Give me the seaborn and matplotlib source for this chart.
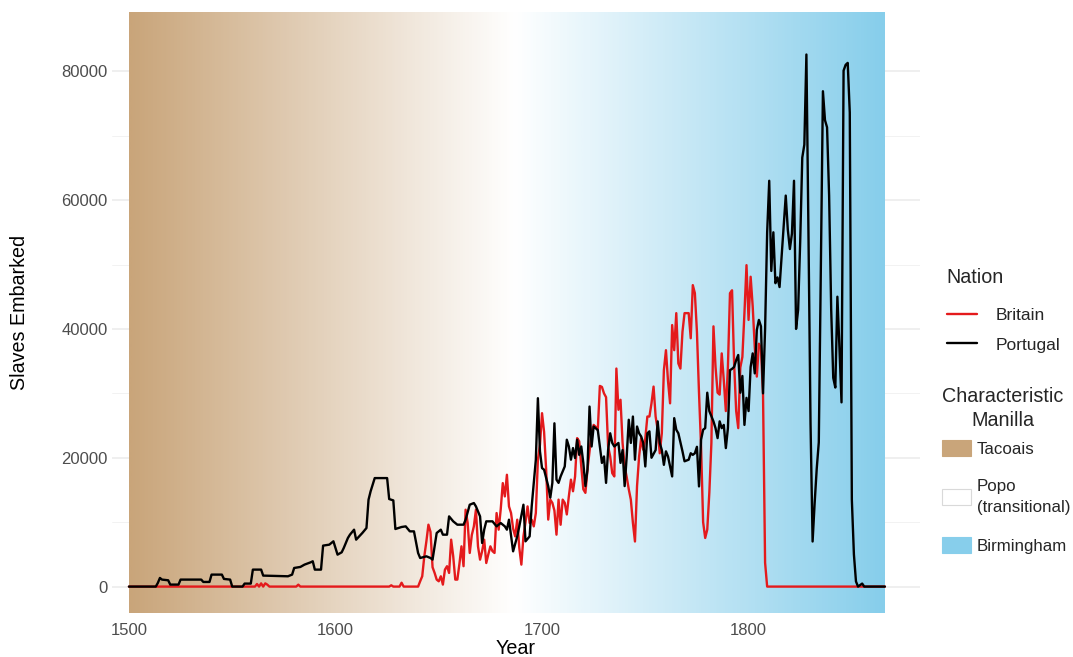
import numpy as np
import pandas as pd
import matplotlib
matplotlib.use("Agg")
import matplotlib.pyplot as plt
from matplotlib.colors import LinearSegmentedColormap
from matplotlib.lines import Line2D
from matplotlib.patches import Patch
from matplotlib.ticker import MultipleLocator
import seaborn as sns

# --- data (slaves embarked per year) ---
portugal_years = [
    1500, 1513, 1514, 1515, 1516, 1519, 1520, 1524, 1525, 1535, 1536, 1539, 1540, 1545,
    1546, 1549, 1550, 1555, 1556, 1559, 1560, 1564, 1565, 1577, 1579, 1580, 1583, 1585,
    1588, 1589, 1590, 1593, 1594, 1597, 1599, 1601, 1603, 1604, 1606, 1607, 1609, 1610,
    1613, 1615, 1616, 1617, 1618, 1619, 1625, 1626, 1628, 1629, 1632, 1634, 1636, 1638,
    1640, 1641, 1644, 1646, 1647, 1649, 1651, 1652, 1654, 1655, 1657, 1659, 1662, 1663,
    1665, 1667, 1668, 1670, 1671, 1672, 1673, 1676, 1678, 1680, 1682, 1683, 1684, 1686,
    1688, 1689, 1691, 1692, 1694, 1695, 1696, 1697, 1698, 1699, 1700, 1701, 1703, 1704,
    1705, 1706, 1707, 1708, 1709, 1711, 1712, 1713, 1714, 1715, 1716, 1717, 1718, 1719,
    1720, 1721, 1722, 1723, 1724, 1725, 1727, 1728, 1729, 1730, 1731, 1732, 1733, 1734,
    1735, 1737, 1738, 1739, 1740, 1741, 1742, 1743, 1744, 1745, 1746, 1747, 1748, 1749,
    1750, 1751, 1752, 1753, 1755, 1756, 1757, 1758, 1759, 1760, 1761, 1762, 1763, 1764,
    1765, 1766, 1768, 1769, 1771, 1772, 1773, 1774, 1775, 1776, 1777, 1778, 1779, 1780,
    1781, 1783, 1784, 1785, 1786, 1787, 1788, 1789, 1790, 1791, 1792, 1793, 1794, 1795,
    1796, 1797, 1798, 1799, 1800, 1801, 1802, 1803, 1804, 1805, 1806, 1807, 1808, 1809,
    1810, 1811, 1812, 1813, 1814, 1815, 1816, 1817, 1818, 1819, 1820, 1821, 1822, 1823,
    1824, 1825, 1826, 1827, 1828, 1829, 1830, 1831, 1832, 1833, 1834, 1835, 1836, 1837,
    1838, 1839, 1840, 1841, 1842, 1843, 1844, 1845, 1846, 1847, 1848, 1849, 1850, 1851,
    1852, 1853, 1855, 1856, 1866,
]
portugal_slaves = [
    0, 0, 570, 1340, 1085, 980, 310, 310, 1085, 1085, 720, 720, 1860, 1860,
    1190, 1085, 0, 0, 465, 465, 2635, 2635, 1705, 1600, 1860, 2890, 3050, 3410,
    3770, 3930, 2635, 2635, 6360, 6510, 7030, 4960, 5320, 5990, 7540, 8060, 8835, 7285,
    8320, 9090, 13485, 14780, 15810, 16845, 16845, 13590, 13380, 8940, 9250, 9350, 8575, 8575,
    5215, 4440, 4700, 4440, 4185, 8320, 8835, 8060, 8060, 10900, 10130, 9610, 9610, 10385,
    12710, 12970, 12450, 10900, 6765, 8835, 10130, 10130, 9350, 9870, 9350, 8835, 10385, 5475,
    7800, 9350, 12710, 7025, 7800, 12450, 16000, 19685, 29245, 21000, 18400, 18140, 15600, 13800,
    16100, 25350, 16600, 16100, 17100, 18650, 22800, 21750, 19700, 21500, 19950, 22800, 20450, 21750,
    19200, 15600, 18140, 27950, 21750, 24850, 24300, 21750, 19200, 20200, 16100, 21200, 23800, 22300,
    21750, 22300, 19200, 21200, 15600, 20200, 25900, 22300, 26400, 19700, 24850, 23800, 23300, 22300,
    18650, 23800, 24100, 20000, 21200, 25650, 22300, 21200, 18900, 21000, 20200, 18650, 17100, 26150,
    24350, 23800, 21000, 19450, 19700, 20700, 20450, 20700, 21700, 15550, 22800, 24350, 24600, 30100,
    27250, 25650, 24600, 23050, 25650, 24600, 25100, 21500, 24600, 33600, 33800, 34100, 35150, 35950,
    30100, 32700, 25100, 29300, 27250, 34100, 36200, 33100, 39850, 41400, 40400, 30000, 40000, 55000,
    63000, 49000, 55000, 47100, 48000, 46500, 51200, 56000, 60700, 55400, 52400, 54800, 63000, 40000,
    43000, 53600, 66600, 68600, 82600, 54800, 25300, 7000, 13000, 18300, 22400, 50000, 76900, 72400,
    71300, 60700, 43000, 32400, 30900, 45000, 37100, 28600, 80100, 81000, 81300, 73600, 13500, 5000,
    800, 0, 470, 0, 0,
]

britain_years = [
    1500, 1561, 1562, 1563, 1564, 1565, 1566, 1567, 1568, 1581, 1582, 1583, 1626, 1627,
    1628, 1631, 1632, 1633, 1640, 1641, 1642, 1643, 1644, 1645, 1646, 1647, 1648, 1649,
    1650, 1651, 1652, 1653, 1654, 1655, 1656, 1657, 1658, 1659, 1660, 1661, 1662, 1663,
    1664, 1665, 1666, 1667, 1668, 1669, 1670, 1671, 1672, 1673, 1674, 1675, 1676, 1677,
    1678, 1679, 1680, 1681, 1682, 1683, 1684, 1685, 1686, 1687, 1688, 1689, 1690, 1691,
    1692, 1693, 1694, 1695, 1696, 1697, 1698, 1699, 1700, 1701, 1702, 1703, 1704, 1705,
    1706, 1707, 1708, 1709, 1710, 1711, 1712, 1713, 1714, 1715, 1716, 1717, 1718, 1719,
    1720, 1721, 1722, 1723, 1724, 1725, 1726, 1727, 1728, 1729, 1730, 1731, 1732, 1733,
    1734, 1735, 1736, 1737, 1738, 1739, 1740, 1741, 1742, 1743, 1744, 1745, 1746, 1747,
    1748, 1749, 1750, 1751, 1752, 1753, 1754, 1755, 1756, 1757, 1758, 1759, 1760, 1761,
    1762, 1763, 1764, 1765, 1766, 1767, 1768, 1769, 1770, 1771, 1772, 1773, 1774, 1775,
    1776, 1777, 1778, 1779, 1780, 1781, 1782, 1783, 1784, 1785, 1786, 1787, 1788, 1789,
    1790, 1791, 1792, 1793, 1794, 1795, 1796, 1797, 1798, 1799, 1800, 1801, 1802, 1803,
    1804, 1805, 1806, 1807, 1808, 1809, 1866,
]
britain_slaves = [
    0, 0, 400, 0, 500, 0, 500, 300, 0, 0, 300, 0, 0, 200,
    0, 0, 600, 0, 0, 825, 1600, 4700, 7000, 9610, 8500, 3000, 2120, 1085,
    825, 1600, 310, 2635, 3165, 2120, 7285, 4700, 1085, 1085, 3500, 6250, 3165, 11935,
    9870, 5220, 8000, 9350, 11935, 6250, 4180, 5500, 7285, 3660, 5000, 6250, 5500, 5220,
    11420, 8835, 12000, 16065, 14000, 17360, 12450, 11420, 9000, 7800, 10385, 6000, 3410, 7800,
    10000, 12450, 9870, 10385, 9350, 11420, 19685, 22000, 26920, 24000, 18140, 10400, 13500, 13000,
    11800, 8060, 13500, 9600, 13500, 13000, 11200, 14050, 16600, 14800, 17100, 23050, 22550, 18650,
    15100, 14550, 18140, 21000, 23800, 25100, 24800, 24300, 31150, 31000, 30000, 29400, 21750, 20200,
    17600, 17100, 33850, 27450, 29000, 22300, 18650, 17000, 15100, 13500, 9900, 7000, 15600, 20200,
    23050, 21250, 23000, 26400, 26400, 28450, 31050, 26400, 24350, 20700, 23800, 33600, 36700, 31900,
    28450, 40600, 36700, 42450, 34650, 33850, 39550, 42450, 42450, 42450, 38550, 46800, 45550, 39550,
    30100, 21750, 10000, 7550, 8850, 14550, 22300, 40400, 34100, 30100, 29800, 36200, 32050, 27250,
    34100, 45550, 46000, 34650, 27250, 24600, 34000, 35650, 42450, 49900, 41400, 48100, 43500, 37200,
    32600, 37700, 37000, 29800, 3700, 0, 0,
]

nation_order = ["Britain", "Portugal"]
nation_colors = ["#E41A1C", "#000000"]

manilla_labels = ["Tacoais", "Popo\n(transitional)", "Birmingham"]
manilla_colors = ["#C9A57A", "#FFFFFF", "#87CEEB"]
manilla_span = [1500, 1866]

y_ticks = [0, 20000, 40000, 60000, 80000]
x_ticks = [1500, 1600, 1700, 1800]

df = pd.concat([
    pd.DataFrame({"Year": britain_years, "Slaves": britain_slaves, "Nation": "Britain"}),
    pd.DataFrame({"Year": portugal_years, "Slaves": portugal_slaves, "Nation": "Portugal"}),
], ignore_index=True)

sns.set_theme(style="white")
plt.rcParams["font.family"] = ["Liberation Sans", "DejaVu Sans"]

W, H = 1073, 657
fig = plt.figure(figsize=(W / 100, H / 100), dpi=100)
ax = fig.add_axes([112 / W, 1 - 613 / H, (920 - 112) / W, (613 - 12) / H])

y_lo, y_hi = -4100, 89200

# manilla background: tan -> white -> sky blue
cmap = LinearSegmentedColormap.from_list(
    "manilla", list(zip([0.0, 0.51, 1.0], manilla_colors)))
ax.imshow(np.linspace(0, 1, 600).reshape(1, -1), cmap=cmap, aspect="auto",
          extent=[manilla_span[0], manilla_span[1], y_lo, y_hi],
          interpolation="bilinear", zorder=1)

sns.lineplot(data=df, x="Year", y="Slaves", hue="Nation", hue_order=nation_order,
             palette=dict(zip(nation_order, nation_colors)), estimator=None,
             linewidth=1.7, legend=False, ax=ax, zorder=3)

ax.set_xlim(1491.8, 1883)
ax.set_ylim(y_lo, y_hi)
ax.set_xticks(x_ticks)
ax.set_yticks(y_ticks)
ax.set_yticklabels([str(v) for v in y_ticks])
ax.yaxis.set_minor_locator(MultipleLocator(10000))
ax.set_axisbelow(True)
ax.grid(which="major", axis="y", color="#EBEBEB", linewidth=1.1)
ax.grid(which="minor", axis="y", color="#F0F0F0", linewidth=0.6)
ax.grid(which="both", axis="x", visible=False)
for s in ax.spines.values():
    s.set_visible(False)
ax.tick_params(axis="both", which="both", length=0, labelsize=12, labelcolor="#4D4D4D")
ax.tick_params(axis="x", pad=7)
ax.tick_params(axis="y", pad=3)

ax.set_xlabel("Year", fontsize=14.2, color="black")
ax.set_ylabel("Slaves Embarked", fontsize=14.2, color="black")
ax.xaxis.set_label_coords(0.5, -(639 - 613) / 601)
ax.yaxis.set_label_coords((29 - 112) / 808, 0.5)

# legends
nation_handles = [Line2D([0], [0], color=c, lw=1.7) for c in nation_colors]
leg1 = ax.legend(nation_handles, nation_order, title="Nation", loc="upper left",
                 bbox_to_anchor=(931 / W, 1 - 252 / H), bbox_transform=fig.transFigure,
                 frameon=False, fontsize=12.5, title_fontsize=14.2, handlelength=1.75,
                 handletextpad=1.1, labelspacing=0.85)
leg1._legend_box.align = "left"
leg1._legend_box.sep = 15.0
ax.add_artist(leg1)

manilla_handles = [Patch(facecolor=c, edgecolor=("#D9D9D9" if c == "#FFFFFF" else c), lw=0.8)
                   for c in manilla_colors]
leg2 = ax.legend(manilla_handles, manilla_labels, title="Characteristic\nManilla",
                 loc="upper left", bbox_to_anchor=(927 / W, 1 - 372 / H),
                 bbox_transform=fig.transFigure, frameon=False, fontsize=12.2,
                 title_fontsize=14.2, handlelength=1.7, handleheight=1.1,
                 handletextpad=0.35, labelspacing=1.3)
leg2._legend_box.align = "left"
leg2._legend_box.sep = 7.2
leg2.get_title().set_multialignment("center")
leg2.get_title().set_linespacing(1.3)
for t in leg2.get_texts():
    t.set_linespacing(1.5)

fig.savefig("out.png", dpi=100)
